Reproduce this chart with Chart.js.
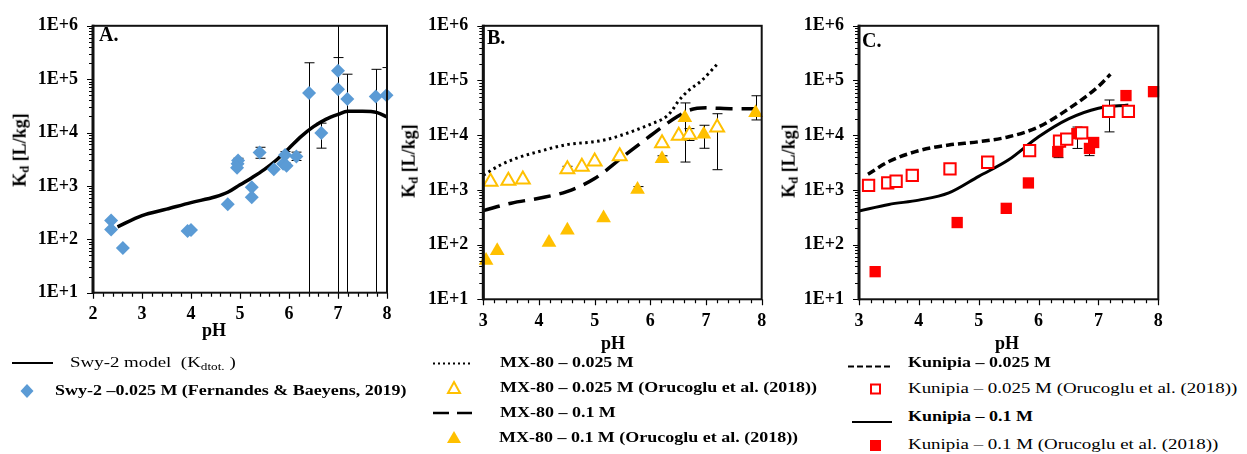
<!DOCTYPE html>
<html><head><meta charset="utf-8">
<script src="https://cdn.jsdelivr.net/npm/chart.js@4.4.1/dist/chart.umd.min.js"></script>
<style>
html,body{margin:0;padding:0;background:#fff;}
body{width:1247px;height:454px;overflow:hidden;position:relative;font-family:"Liberation Serif","Times New Roman",serif;color:#000;}
canvas{position:absolute;top:0;}
.yt{position:absolute;font-weight:bold;font-size:18px;white-space:nowrap;line-height:1;transform:translate(-50%,-50%) rotate(-90deg);}
.ph{position:absolute;font-weight:bold;font-size:18px;line-height:1;transform:translateX(-50%);}
.pl{position:absolute;font-weight:bold;font-size:20px;line-height:1;}
.lg{position:absolute;white-space:nowrap;line-height:1;font-size:15.5px;transform:scaleX(1.22);transform-origin:0 50%;}
.lg.bold{font-weight:bold;transform:scaleX(1.16);}
svg.sym{position:absolute;overflow:visible;}
sub{font-size:70%;vertical-align:-0.25em;}
</style>
</head>
<body>
<canvas id="cA" width="410" height="340" style="left:0px;width:410px;height:340px"></canvas>
<canvas id="cB" width="380" height="340" style="left:420px;width:380px;height:340px"></canvas>
<canvas id="cC" width="452" height="340" style="left:795px;width:452px;height:340px"></canvas>

<div class="yt" style="left:21px;top:150px">K<sub>d</sub> [L/kg]</div>
<div class="yt" style="left:410px;top:161px">K<sub>d</sub> [L/kg]</div>
<div class="yt" style="left:790px;top:161px">K<sub>d</sub> [L/kg]</div>

<div class="pl" style="left:99px;top:24px">A.</div>
<div class="pl" style="left:487px;top:27px">B.</div>
<div class="pl" style="left:862px;top:30px">C.</div>

<div class="ph" style="left:214px;top:321px">pH</div>
<div class="ph" style="left:613px;top:334px">pH</div>
<div class="ph" style="left:1007px;top:334px">pH</div>

<svg class="sym" style="left:0;top:0" width="1" height="1">
  <!-- Legend A -->
  <line x1="12" y1="363" x2="53" y2="363" stroke="#000" stroke-width="2"/>
  <polygon points="27,384 33.5,391 27,398 20.5,391" fill="#5b9bd5"/>
  <!-- Legend B -->
  <line x1="433" y1="363.5" x2="472" y2="363.5" stroke="#000" stroke-width="2" stroke-dasharray="2 3"/>
  <polygon points="454,382 460,393 448,393" fill="#fff" stroke="#ffc000" stroke-width="2"/>
  <line x1="433" y1="413" x2="472" y2="413" stroke="#000" stroke-width="2.5" stroke-dasharray="16 8"/>
  <polygon points="454,431 461,443 447,443" fill="#ffc000"/>
  <!-- Legend C -->
  <line x1="848" y1="366.5" x2="890" y2="366.5" stroke="#000" stroke-width="2" stroke-dasharray="6 3"/>
  <rect x="871" y="384.5" width="9" height="9" fill="#fff" stroke="#ff0000" stroke-width="2"/>
  <line x1="852" y1="422" x2="892" y2="422" stroke="#000" stroke-width="2"/>
  <rect x="870" y="440" width="11" height="11" fill="#ff0000"/>
</svg>
<div class="lg" style="left:70px;top:354px">Swy-2 model&nbsp; (K<sub>dtot.</sub> )</div>
<div class="lg bold" style="left:55px;top:382px">Swy-2 –0.025 M (Fernandes &amp; Baeyens, 2019)</div>

<div class="lg bold" style="left:500px;top:354px">MX-80 – 0.025 M</div>
<div class="lg bold" style="left:500px;top:379px">MX-80 – 0.025 M (Orucoglu et al. (2018))</div>
<div class="lg bold" style="left:500px;top:404px">MX-80 – 0.1 M</div>
<div class="lg bold" style="left:499px;top:429px">MX-80 – 0.1 M (Orucoglu et al. (2018))</div>

<div class="lg bold" style="left:908px;top:354px">Kunipia – 0.025 M</div>
<div class="lg" style="left:908px;top:380px">Kunipia – 0.025 M (Orucoglu et al. (2018))</div>
<div class="lg bold" style="left:908px;top:408px">Kunipia – 0.1 M</div>
<div class="lg" style="left:908px;top:436px">Kunipia – 0.1 M (Orucoglu et al. (2018))</div>

<script>
// ---------------- Panel A : Swy-2 ----------------
const swyModelPH = [2.5,3.0,3.5,4.0,4.5,4.75,5.0,5.25,5.5,5.75,6.0,6.25,6.5,6.75,7.0,7.2,7.5,7.8,8.0];
const swyModelKd = [171,279,367,487,626,760,1050,1440,2040,3090,5100,8500,12900,17700,21900,25000,25000,23600,19600];
const swyExpPH   = [2.37,2.37,2.61,3.93,4.00,4.75,4.96,4.95,4.94,5.24,5.24,5.40,5.69,5.88,5.92,5.95,6.15,6.41,6.66,7.00,7.00,7.19,7.77,7.99];
const swyExpKd   = [226,152,69,143,149,453,3000,2600,2200,940,617,4250,2050,2600,3800,2400,3560,54800,9800,144000,65000,42600,47500,50000];
const swyErrLow  = [null,null,null,null,null,null,2600,null,null,null,null,3300,null,null,2700,null,3000,1,5100,1,1,1,1,1];
const swyErrHigh = [null,null,null,null,null,null,3300,null,null,null,null,5300,null,null,4400,null,4300,203000,15000,3000000,254000,124000,153000,165000];

// ---------------- Panel B : MX-80 ----------------
const mx025ModelPH = [3.0,3.3,3.6,4.0,4.5,5.0,5.2,5.45,5.7,6.0,6.3,6.4,6.5,6.7,6.9,7.2];
const mx025ModelKd = [1860,2820,3810,5030,6730,7620,8280,9770,12000,15800,22400,29300,41700,67500,95500,198000];
const mx01ModelPH  = [3.0,3.5,4.0,4.5,5.0,5.5,6.0,6.5,6.7,7.0,7.5,7.9];
const mx01ModelKd  = [418,572,705,930,1610,3970,9770,22400,28700,31600,30300,30300];
const mx025ExpPH   = [3.13,3.45,3.71,4.51,4.77,5.00,5.45,6.21,6.51,6.70,7.20];
const mx025ExpKd   = [1410,1470,1550,2390,2660,3320,4140,7100,9770,10200,13800];
const mx025ErrLow  = [null,null,null,2100,null,null,null,null,null,8000,2340];
const mx025ErrHigh = [null,null,null,2700,null,null,null,null,null,13200,24700];
const mx01ExpPH    = [3.05,3.25,4.18,4.51,5.16,5.77,6.21,6.62,6.96,7.89];
const mx01ExpKd    = [51,77,109,182,308,1020,3700,20900,10400,25700];
const mx01ErrLow   = [null,null,null,null,null,900,3300,3230,5770,19000];
const mx01ErrHigh  = [null,null,null,null,null,1150,4200,38900,15200,52600];

// ---------------- Panel C : Kunipia ----------------
const kun025ModelPH = [3.15,3.5,4.0,4.5,5.0,5.5,6.0,6.5,7.0,7.2];
const kun025ModelKd = [1940,3300,5210,6610,7590,9340,14200,30300,78000,130000];
const kun01ModelPH  = [3.0,3.5,4.0,4.5,5.0,5.5,6.0,6.5,7.0,7.5];
const kun01ModelKd  = [411,543,650,881,1770,3540,9340,19900,31200,35800];
const kun025ExpPH   = [3.16,3.48,3.62,3.89,4.52,5.15,5.85,6.35,6.47,6.72,7.17,7.50];
const kun025ExpKd   = [1210,1340,1440,1840,2430,3200,5210,7800,8480,11000,27200,27200];
const kun025ErrLow  = [null,null,null,null,null,null,null,null,null,null,11500,null];
const kun025ErrHigh = [null,null,null,null,null,null,null,null,null,null,44000,null];
const kun01ExpPH    = [3.27,4.64,5.46,5.83,6.32,6.64,6.85,6.92,7.46,7.92];
const kun01ExpKd    = [32,253,460,1340,5000,10700,5730,7360,53000,62500];
const kun01ErrLow   = [null,null,null,null,3890,5730,4230,null,null,null];
const kun01ErrHigh  = [null,null,null,null,6000,14100,8900,null,null,null];

// tick values (decades)
const yDecades = [10,100,1000,10000,100000,1000000];

Chart.defaults.font.family = '"Liberation Serif","Times New Roman",serif';
Chart.defaults.color = '#000';

const pts = (xs, ys) => xs.map((x, i) => ({x: x, y: ys[i]}));

function lineDs(xs, ys, dash, width) {
  return {data: pts(xs, ys), showLine: true, pointRadius: 0, borderColor: '#000', borderWidth: width,
          borderDash: dash, cubicInterpolationMode: 'monotone', fill: false, order: 2};
}
function pointDs(xs, ys, style, radius, fillC, strokeC, bw, lo, hi) {
  return {data: pts(xs, ys), showLine: false, pointStyle: style, pointRadius: radius,
          backgroundColor: fillC, borderColor: strokeC, borderWidth: bw, errLow: lo, errHigh: hi,
          clip: false, order: 1};
}

const panelPlugin = {
  id: 'panelDeco',
  beforeDatasetsDraw(chart) {
    const {ctx, chartArea: a, scales: {x, y}} = chart;
    ctx.save();
    ctx.beginPath(); ctx.rect(a.left, a.top, a.right - a.left, a.bottom - a.top); ctx.clip();
    ctx.strokeStyle = '#000'; ctx.lineWidth = 1;
    chart.data.datasets.forEach(ds => {
      if (!ds.errLow) return;
      ds.data.forEach((p, i) => {
        const lo = ds.errLow[i], hi = ds.errHigh[i];
        if (lo == null) return;
        const px = Math.round(x.getPixelForValue(p.x)) + 0.5;
        const y1 = y.getPixelForValue(lo), y2 = y.getPixelForValue(hi);
        ctx.beginPath();
        ctx.moveTo(px, y1); ctx.lineTo(px, y2);
        ctx.moveTo(px - 5, y1); ctx.lineTo(px + 5, y1);
        ctx.moveTo(px - 5, y2); ctx.lineTo(px + 5, y2);
        ctx.stroke();
      });
    });
    ctx.restore();
  },
  afterDraw(chart) {
    const {ctx, chartArea: a, scales: {x, y}} = chart;
    ctx.save();
    ctx.strokeStyle = '#000';
    ctx.lineWidth = 1.2;
    const n = Math.round((x.max - x.min) / 0.2);
    ctx.beginPath();
    for (let i = 0; i <= n; i++) {
      const v = x.min + i * 0.2;
      const px = Math.round(x.getPixelForValue(v)) + 0.5;
      const len = (i % 5 === 0) ? 6 : 4;
      ctx.moveTo(px, a.bottom); ctx.lineTo(px, a.bottom + len);
    }
    for (let e = 1; e <= 6; e++) {
      for (let m = 1; m <= 9; m++) {
        const v = m * Math.pow(10, e);
        if (v > y.max * 1.0001) break;
        const py = Math.round(y.getPixelForValue(v)) + 0.5;
        const len = (m === 1) ? 6 : 4;
        ctx.moveTo(a.left - len, py); ctx.lineTo(a.left, py);
      }
    }
    ctx.stroke();
    ctx.lineWidth = 2;
    ctx.strokeStyle = '#111';
    ctx.strokeRect(a.left, a.top, a.right - a.left, a.bottom - a.top);
    ctx.lineWidth = 3;
    ctx.beginPath(); ctx.moveTo(a.left, a.top - 1); ctx.lineTo(a.left, a.bottom + 1); ctx.stroke();
    ctx.restore();
  }
};

function makeChart(id, xmin, xmax, padding, yWidth, datasets) {
  return new Chart(document.getElementById(id), {
    type: 'scatter',
    data: {datasets: datasets},
    options: {
      responsive: false, animation: false, events: [],
      layout: {padding: padding},
      plugins: {legend: {display: false}, tooltip: {enabled: false}},
      scales: {
        x: {type: 'linear', min: xmin, max: xmax,
            grid: {display: false, drawTicks: false}, border: {display: false},
            ticks: {stepSize: 1, padding: 11, font: {size: 18, weight: 'bold'}, color: '#000',
                    callback: v => (Math.abs(v - Math.round(v)) < 1e-6 ? String(Math.round(v)) : '')},
            afterFit: s => { s.height = 40; }},
        y: {type: 'logarithmic', min: 10, max: 1000000,
            grid: {display: false, drawTicks: false}, border: {display: false},
            afterBuildTicks: s => { s.ticks = yDecades.map(v => ({value: v, major: true})); },
            ticks: {padding: 15, autoSkip: false, font: {size: 18, weight: 'bold'}, color: '#000',
                    callback: v => '1E+' + Math.round(Math.log10(v))},
            afterFit: s => { s.width = yWidth; }}
      }
    },
    plugins: [panelPlugin]
  });
}

makeChart('cA', 2, 8, {left: 23, top: 18, right: 23, bottom: 7.3}, 70, [
  pointDs(swyExpPH, swyExpKd, 'rectRot', 7, '#5b9bd5', '#5b9bd5', 0, swyErrLow, swyErrHigh),
  lineDs(swyModelPH, swyModelKd, [], 3.5)
]);

makeChart('cB', 3, 8, {left: 3.3, top: 21.7, right: 38.3, bottom: 0.7}, 60, [
  pointDs(mx025ExpPH, mx025ExpKd, 'triangle', 8, '#ffffff', '#ffc000', 2, mx025ErrLow, mx025ErrHigh),
  pointDs(mx01ExpPH, mx01ExpKd, 'triangle', 8.5, '#ffc000', '#ffc000', 0, mx01ErrLow, mx01ErrHigh),
  lineDs(mx025ModelPH, mx025ModelKd, [2.5, 3.5], 3),
  lineDs(mx01ModelPH, mx01ModelKd, [17, 9], 3.5)
]);

makeChart('cC', 3, 8, {left: 4, top: 22.7, right: 88.7, bottom: 0.7}, 60, [
  pointDs(kun025ExpPH, kun025ExpKd, 'rect', 8, '#ffffff', '#ff0000', 2, kun025ErrLow, kun025ErrHigh),
  pointDs(kun01ExpPH, kun01ExpKd, 'rect', 8, '#ff0000', '#ff0000', 0, kun01ErrLow, kun01ErrHigh),
  lineDs(kun025ModelPH, kun025ModelKd, [8, 4], 3.5),
  lineDs(kun01ModelPH, kun01ModelKd, [], 3)
]);
</script>
</body></html>
